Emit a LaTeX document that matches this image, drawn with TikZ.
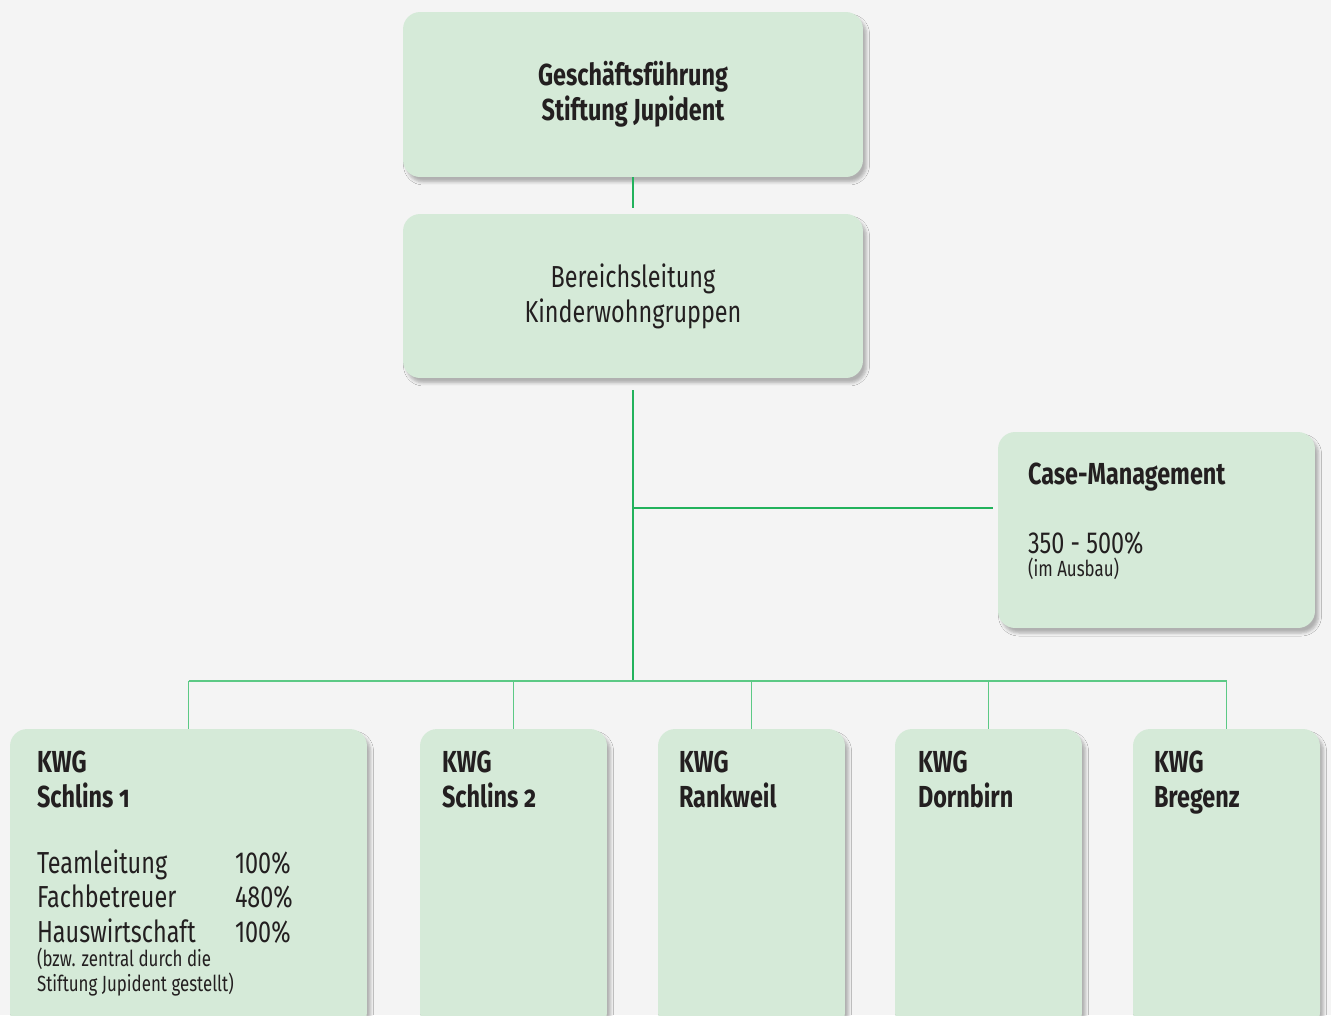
\documentclass[tikz,border=0pt]{standalone}
\usepackage{fontspec}
\setmainfont{Fira Sans}[FakeStretch=0.77]
\usetikzlibrary{calc,positioning,shadows.blur}
\definecolor{bgGray}{HTML}{F4F4F4}
\definecolor{boxGreen}{HTML}{D5EAD8}
\definecolor{lineGreen}{HTML}{22B25C}
\definecolor{busGreen}{HTML}{5CC985}
\definecolor{textDark}{HTML}{231F20}
\newcommand\bigtxt{\fontsize{17.3}{19.9}\selectfont}
\newcommand\smalltxt{\fontsize{12.5}{14}\selectfont}
\newcommand\onum[1]{{\addfontfeature{Numbers=OldStyle}#1}}
\tikzset{
    orgbox/.style={fill=boxGreen, draw=none, rounded corners=0.34cm, align=center,
        blur shadow={shadow xshift=0.07cm, shadow yshift=-0.1cm,
            shadow blur radius=0.06cm, shadow opacity=28}},
    txt/.style={anchor=base west, inner sep=0pt},
    trunk/.style={draw=lineGreen, line width=0.04cm},
    branch/.style={draw=busGreen, line width=0.025cm}
}

\begin{document}
\begin{tikzpicture}[x=0.02cm,y=-0.02cm,font=\bigtxt,text=textDark]
    \fill[bgGray] (0,0) rectangle (1331,1015);
    \clip (0,0) rectangle (1331,1015);
    % boxes
    \node[orgbox, minimum width=9.2cm, minimum height=3.3cm, font=\bigtxt\bfseries]
        (gf) at (633,94.5) {Geschäftsführung\\Stiftung Jupident};
    \node[orgbox, minimum width=9.2cm, minimum height=3.28cm]
        (bl) at (633,296) {Bereichsleitung\\Kinderwohngruppen};
    \node[orgbox, minimum width=6.34cm, minimum height=3.92cm] (cm) at (1156.5,530) {};
    \node[orgbox, minimum width=7.14cm, minimum height=6cm] (k1) at (188.5,879) {};
    \foreach \n/\x in {k2/513.5,k3/751.5,k4/988.5,k5/1226.5}
        \node[orgbox, minimum width=3.74cm, minimum height=6cm] (\n) at (\x,879) {};
    % connectors
    \coordinate (hub) at (633,681);
    \coordinate (cmjoin) at (633,508);
    \draw[trunk] (gf.south) -- ([yshift=0.12cm]bl.north);
    \draw[trunk] ([yshift=-0.24cm]bl.south) -- (hub);
    \draw[trunk] (cmjoin) -- ([xshift=-0.1cm]cmjoin -| cm.west);
    \draw[branch] (hub -| k1) -- (hub -| k5);
    \foreach \n in {k1,k2,k3,k4,k5}
        \draw[branch] (hub -| \n.north) -- (\n.north);
    % case management
    \node[txt, font=\bigtxt\bfseries] (cmhead) at ($(cm.north west)+(30,53)$) {Case-Management};
    \node[txt] (cmrate) at ($(cm.north west)+(30,122)$) {350 - 500\%};
    \node[txt, font=\smalltxt] (cmnote) at ($(cm.north west)+(30,145)$) {(im Ausbau)};
    % KWG headings
    \foreach \n/\dx/\place in {k1/27/Schlins \onum{1}, k2/22/Schlins \onum{2},
            k3/21/Rankweil, k4/23/Dornbirn, k5/21/Bregenz} {
        \node[txt, font=\bigtxt\bfseries] (\n-kwg) at ($(\n.north west)+(\dx,44)$) {KWG};
        \node[txt, font=\bigtxt\bfseries] (\n-place) at ($(\n.north west)+(\dx,79)$) {\place};
    }
    % staffing Schlins 1
    \foreach \lab/\pct/\dy in {Teamleitung/100/145, Fachbetreuer/480/179, Hauswirtschaft/100/214} {
        \node[txt] (role\dy) at ($(k1.north west)+(27,\dy)$) {\lab};
        \node[txt] (pct\dy) at ($(k1.north west)+(225,\dy)$) {\pct\%};
    }
    \node[txt, font=\smalltxt] (note1) at ($(k1.north west)+(27,238)$) {(bzw. zentral durch die};
    \node[txt, font=\smalltxt] (note2) at ($(k1.north west)+(27,263)$) {Stiftung Jupident gestellt)};
\end{tikzpicture}
\end{document}
